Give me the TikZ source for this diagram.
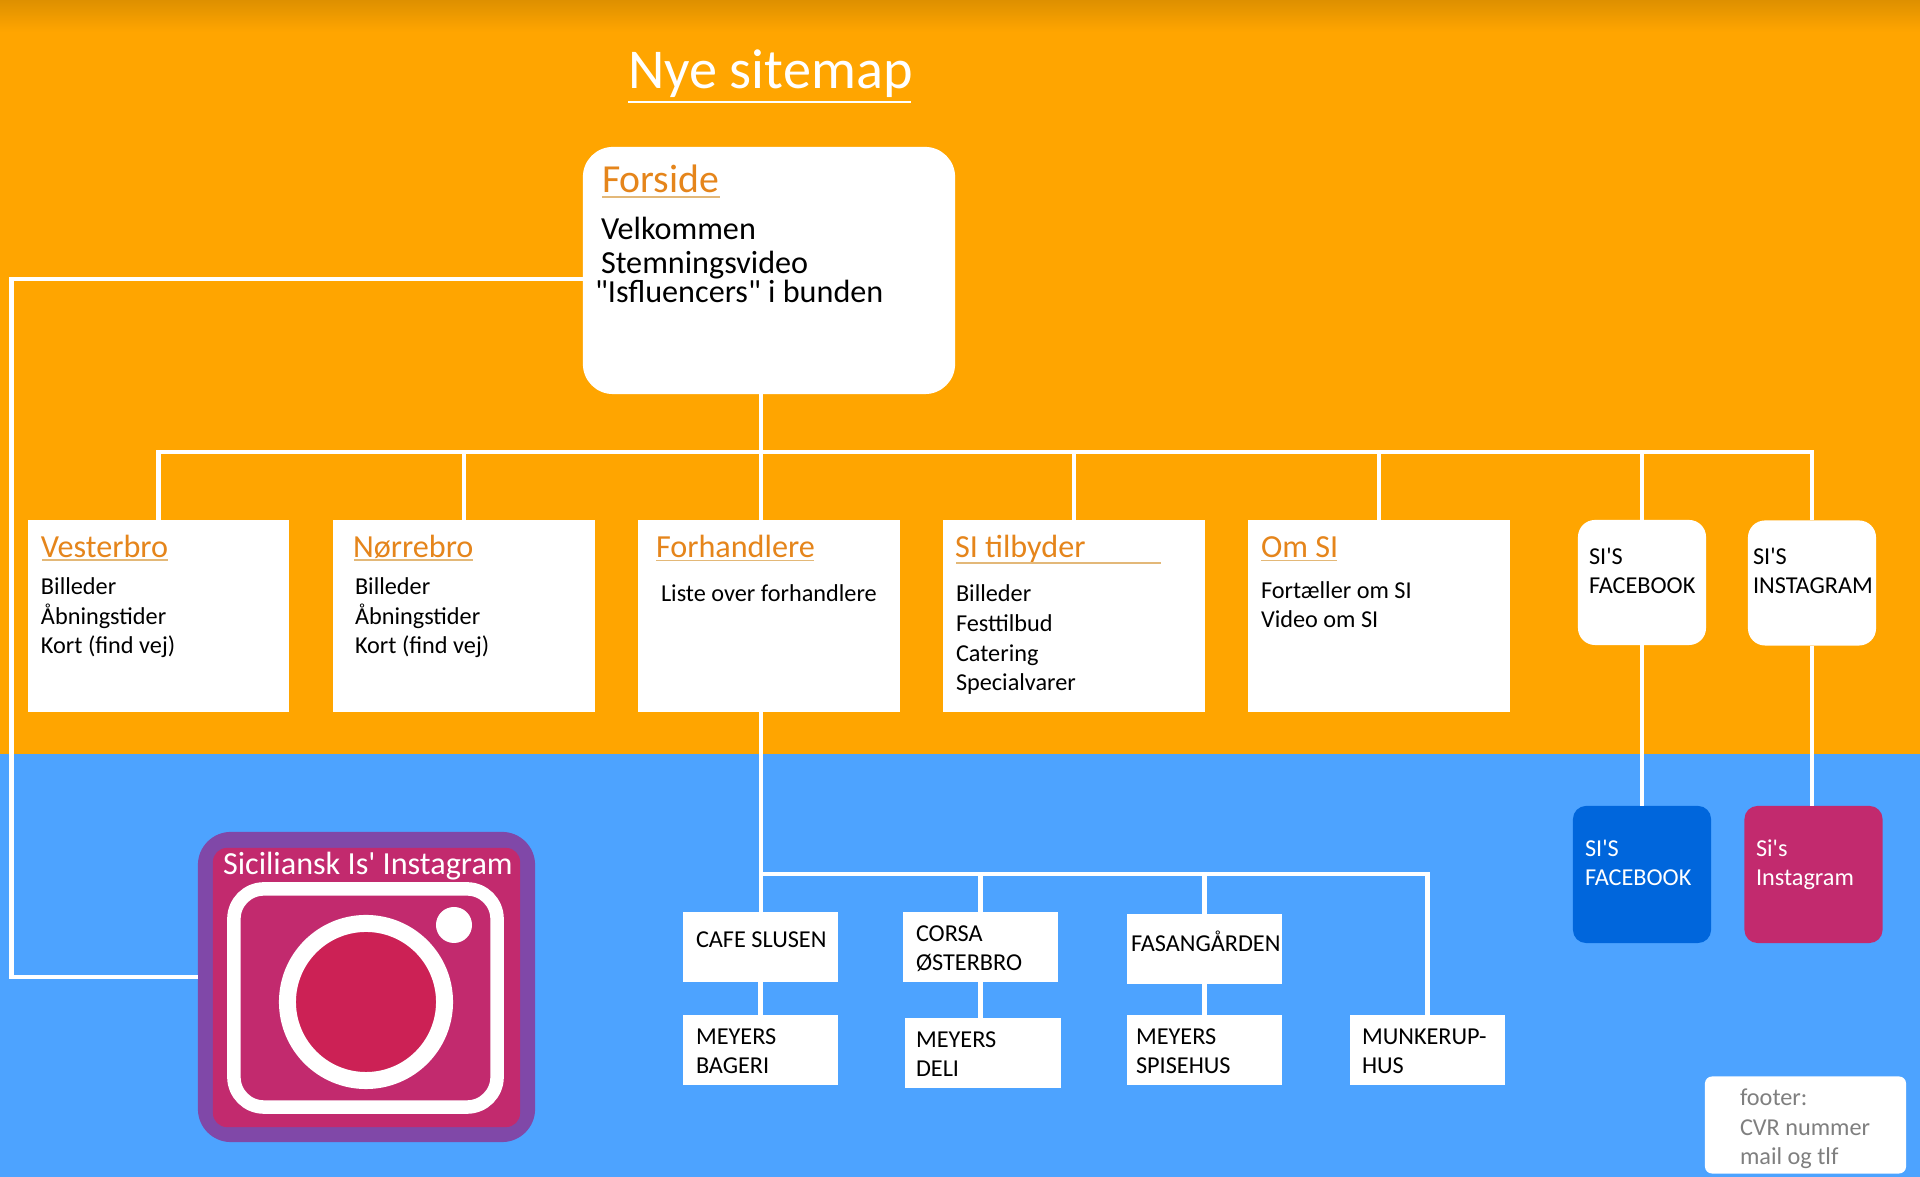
\documentclass[tikz,border=0pt]{standalone}
\usepackage{fontspec}
\setmainfont{Carlito}[Ligatures=TeXOff]
\usetikzlibrary{positioning, calc}

\definecolor{siteorange}{HTML}{FFA500}
\definecolor{sitetop}{HTML}{DE9000}
\definecolor{siteblue}{HTML}{4DA3FF}
\definecolor{headorange}{HTML}{E5851B}
\definecolor{headline}{HTML}{E3B878}
\definecolor{fbblue}{HTML}{0066DC}
\definecolor{igpink}{HTML}{C22A6E}
\definecolor{igpurple}{HTML}{8048A8}
\definecolor{iglens}{HTML}{CC2155}
\definecolor{footgray}{HTML}{7F7F7F}

\begin{document}
\begin{tikzpicture}[
  x=0.01cm, y=-0.01cm,
  base/.style={inner sep=0pt, outer sep=0pt},
  pagebox/.style={base, fill=white, minimum width=2.61cm, minimum height=1.92cm},
  homebox/.style={base, fill=white, minimum width=3.72cm, minimum height=2.47cm,
    rounded corners=0.3cm},
  linkbox/.style={base, fill=white, minimum width=1.28cm, minimum height=1.25cm,
    rounded corners=0.17cm},
  socialbox/.style={base, minimum width=1.38cm, minimum height=1.37cm,
    rounded corners=0.13cm},
  shopbox/.style={base, fill=white, minimum width=1.55cm, minimum height=0.70cm},
  footbox/.style={base, fill=white, minimum width=2.01cm, minimum height=0.97cm,
    rounded corners=0.07cm},
  titlelbl/.style={base, anchor=base west, text=white,
    font=\fontsize{16}{18}\selectfont},
  homehead/.style={base, anchor=base west, text=headorange,
    font=\fontsize{11.3}{13}\selectfont},
  homelbl/.style={base, anchor=base west, font=\fontsize{9.15}{10}\selectfont},
  headlbl/.style={base, anchor=base west, text=headorange,
    font=\fontsize{9.15}{10}\selectfont},
  bodylbl/.style={base, anchor=base west, align=left,
    font=\fontsize{6.9}{8.5}\selectfont},
  headrule/.style={draw=headline, line width=0.4pt},
  wire/.style={draw=white, line width=1.2pt},
]

% ---- Background ----
\useasboundingbox (0,0) rectangle (1920,1177);
\fill[siteorange] (0,0) rectangle (1920,754);
\fill[siteblue] (0,754) rectangle (1920,1177);
\shade[top color=sitetop, bottom color=siteorange] (0,0) rectangle (1920,32);

% ---- Title ----
\node[titlelbl] (title) at (628,89) {Nye sitemap};
\draw[draw=white, line width=0.8pt] (628,102) -- (911,102);

% ---- Home page ----
\node[homebox] (forside) at (769,270.5) {};
\node[homehead] (forsidehead) at (602,193) {Forside};
\draw[headrule] (602,197) -- (720,197);
\node[homelbl] (velkommen) at (601,240) {Velkommen};
\node[homelbl] (stemning) at (601,274) {Stemningsvideo};
\node[homelbl] (isfluencers) at (595,303) {"Isfluencers" i bunden};

% ---- Page row ----
\node[pagebox] (vesterbro) at (158.5,616) {};
\node[headlbl] (vesterbrohead) at (41,558) {Vesterbro};
\draw[headrule] (42,560) -- (168,560);
\node[bodylbl] (vesterbrotxt) at (41,654) {Billeder\\Åbningstider\\Kort (find vej)};

\node[pagebox] (norrebro) at (464,616) {};
\node[headlbl] (norrebrohead) at (353,558) {Nørrebro};
\draw[headrule] (354,560) -- (473,560);
\node[bodylbl] (norrebrotxt) at (355,654) {Billeder\\Åbningstider\\Kort (find vej)};

\node[pagebox] (forhandlere) at (769,616) {};
\node[headlbl] (forhandlerehead) at (656,558) {Forhandlere};
\draw[headrule] (656,560.5) -- (814,560.5);
\node[bodylbl] (forhandleretxt) at (661,602) {Liste over forhandlere};

\node[pagebox] (tilbyder) at (1074,616) {};
\node[headlbl] (tilbyderhead) at (955,558) {SI tilbyder};
\draw[headrule] (956,563) -- (1161,563);
\node[bodylbl] (tilbydertxt) at (956,691) {Billeder\\Festtilbud\\Catering\\Specialvarer};

\node[pagebox] (omsi) at (1379,616) {};
\node[headlbl] (omsihead) at (1261,558) {Om SI};
\draw[headrule] (1261,560.5) -- (1337,560.5);
\node[bodylbl] (omsitxt) at (1261,628) {Fortæller om SI\\Video om SI};

% ---- Social links ----
\node[linkbox] (fblink) at (1642,582.5) {};
\node[bodylbl] (fblinktxt) at (1589,594) {SI'S\\FACEBOOK};
\node[linkbox] (iglink) at (1812,583) {};
\node[bodylbl] (iglinktxt) at (1753,594) {SI'S\\INSTAGRAM};

\node[socialbox, fill=fbblue] (fbpage) at (1642,874.5) {};
\node[bodylbl, text=white] (fbpagetxt) at (1585,886) {SI'S\\FACEBOOK};
\node[socialbox, fill=igpink] (igpage) at (1813.5,874.5) {};
\node[bodylbl, text=white] (igpagetxt) at (1756,886) {Si's\\Instagram};

% ---- Resellers ----
\node[shopbox] (slusen) at (760.5,947) {};
\node[bodylbl] (slusentxt) at (696,948) {CAFE SLUSEN};
\node[shopbox] (bageri) at (760.5,1050) {};
\node[bodylbl] (bageritxt) at (696,1074) {MEYERS\\BAGERI};

\node[shopbox] (corsa) at (980.5,947) {};
\node[bodylbl] (corsatxt) at (916,971) {CORSA\\ØSTERBRO};
\node[shopbox] (deli) at (983,1053) {};
\node[bodylbl] (delitxt) at (916,1077) {MEYERS\\DELI};

\node[shopbox] (fasan) at (1204.5,949) {};
\node[bodylbl] (fasantxt) at (1131,952) {FASANGÅRDEN};
\node[shopbox] (spisehus) at (1204.5,1050) {};
\node[bodylbl] (spisehustxt) at (1136,1074) {MEYERS\\SPISEHUS};

\node[shopbox] (munkerup) at (1427.5,1050) {};
\node[bodylbl] (munkeruptxt) at (1362,1074) {MUNKERUP-\\HUS};

% ---- Footer ----
\node[footbox] (footer) at (1805.5,1125) {};
\node[bodylbl, text=footgray] (footertxt) at (1740,1165) {footer:\\CVR nummer\\mail og tlf};

% ---- Instagram icon ----
\node[base, fill=igpurple, minimum width=3.37cm, minimum height=3.10cm,
  rounded corners=0.33cm] (insta) at (366.5,987) {};
\node[base, fill=igpink, minimum width=3.07cm, minimum height=2.79cm,
  rounded corners=0.14cm] (instainner) at (366.5,987.5) {};
\node[base, draw=white, line width=1.35mm, minimum width=2.63cm, minimum height=2.18cm,
  rounded corners=0.3cm] (instaring) at (365.5,998) {};
\node[base, circle, fill=iglens, draw=white, line width=1.7mm,
  minimum size=1.57cm] (instalens) at (366,1002) {};
\node[base, circle, fill=white, minimum size=0.36cm] (instadot) at (454,925) {};
\node[base, anchor=base west, text=white, font=\fontsize{9.15}{10}\selectfont]
  (instatxt) at (223,875) {Siciliansk Is' Instagram};

% ---- Connectors ----
\coordinate (hubhome) at (761,452);
\coordinate (hubleft) at (11.5,279);
\coordinate (hubicon) at (11.5,977);
\coordinate (hubshop) at (761,874);

\draw[wire] (forside.west |- hubleft) -- (hubleft) -- (hubicon) -- (insta.west |- hubicon);
\draw[wire] (hubhome |- forside.south) -- (hubhome |- forhandlere.north);
\draw[wire] (vesterbro.north) -- (vesterbro.north |- hubhome) -- (iglink.north |- hubhome) -- (iglink.north);
\draw[wire] (norrebro.north) -- (norrebro.north |- hubhome);
\draw[wire] (tilbyder.north) -- (tilbyder.north |- hubhome);
\draw[wire] (omsi.north) -- (omsi.north |- hubhome);
\draw[wire] (fblink.north) -- (fblink.north |- hubhome);
\draw[wire] (fblink.south) -- (fbpage.north);
\draw[wire] (iglink.south) -- (iglink.south |- igpage.north);
\draw[wire] (hubhome |- forhandlere.south) -- (hubhome |- slusen.north);
\draw[wire] (hubshop) -- (munkerup.north |- hubshop) -- (munkerup.north);
\draw[wire] (corsa.north) -- (corsa.north |- hubshop);
\draw[wire] (fasan.north) -- (fasan.north |- hubshop);
\draw[wire] (slusen.south) -- (bageri.north);
\draw[wire] (corsa.south) -- (corsa.south |- deli.north);
\draw[wire] (fasan.south) -- (spisehus.north);

\end{tikzpicture}
\end{document}
